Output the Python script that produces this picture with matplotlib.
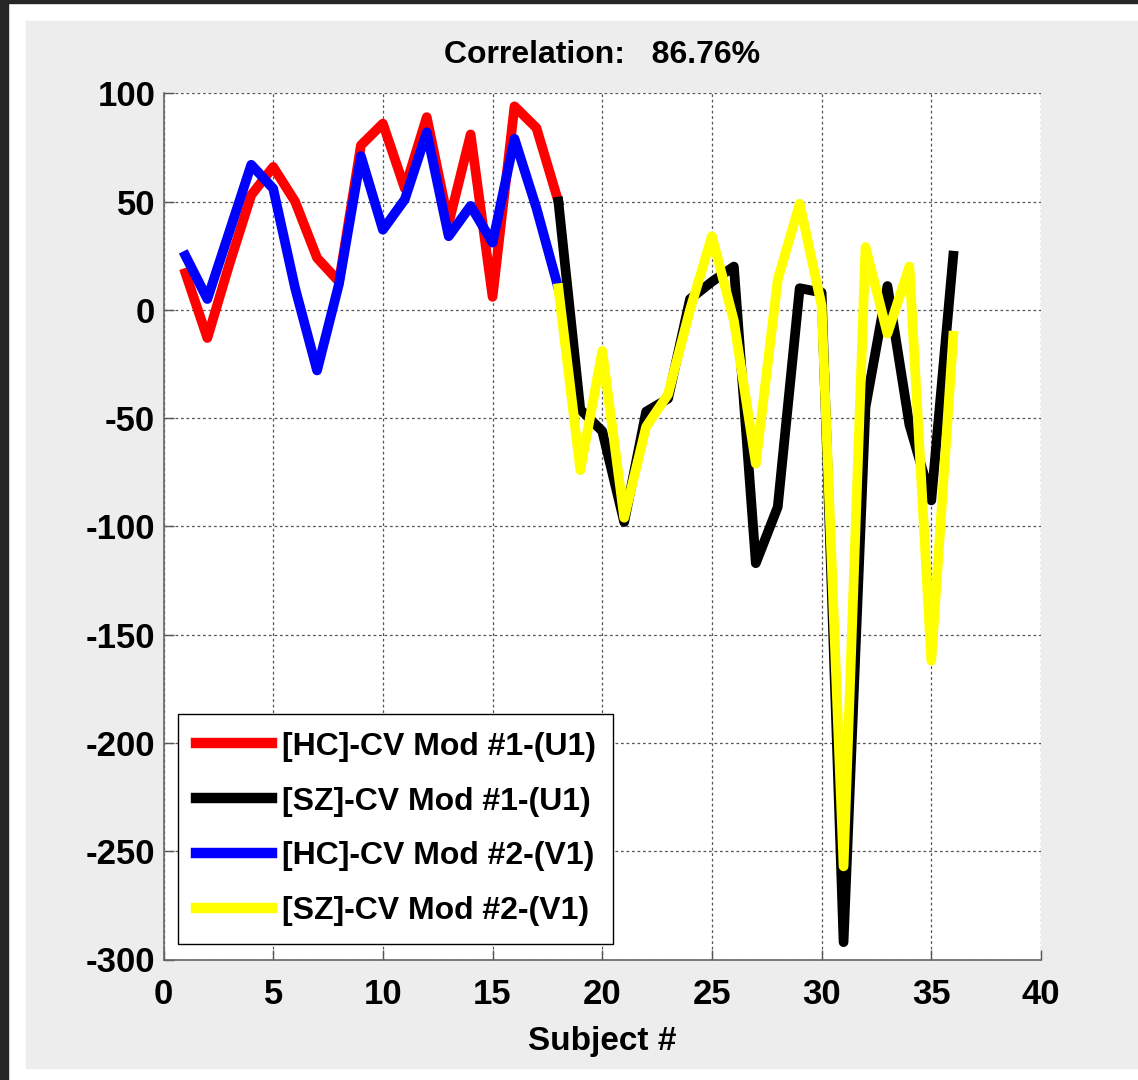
import matplotlib

matplotlib.use("Agg")
import matplotlib.pyplot as plt  # noqa: E402
from matplotlib.patches import Rectangle  # noqa: E402

plt.rcParams["font.family"] = ["Liberation Sans", "DejaVu Sans"]
plt.rcParams["font.weight"] = "bold"
plt.rcParams["axes.unicode_minus"] = False

# HC subjects 1-18, SZ subjects 18-36 (SZ curves start where HC ends)
hc_x = list(range(1, 19))
sz_x = list(range(18, 37))

hc_u1 = [17, -13, 21, 53, 66, 50, 24, 13, 76, 86, 56, 89, 40, 81, 6, 94, 84, 50]
hc_v1 = [25, 5, 36, 67, 56, 10, -28, 12, 71, 37, 51, 82, 34, 48, 31, 79, 47, 10]
sz_u1 = [50, -46, -56, -98, -47, -41, 5, 13, 20, -117, -91, 10, 8, -292,
         -45, 11, -53, -88, 25]
sz_v1 = [10, -74, -19, -96, -54, -39, 0, 34, -5, -71, 14, 49, 2, -257,
         29, -11, 20, -162, -12]

labels = ["[HC]-CV Mod #1-(U1)", "[SZ]-CV Mod #1-(U1)",
          "[HC]-CV Mod #2-(V1)", "[SZ]-CV Mod #2-(V1)"]
corr_text = "Correlation:   86.76%"
x_ticks = list(range(0, 41, 5))
y_ticks = list(range(-300, 101, 50))

W, H = 1138, 1080
fig = plt.figure(figsize=(W / 100, H / 100), dpi=100, facecolor="white")

# window chrome: dark border strip and grey figure panel
fig.patches.append(Rectangle((0, 1 - 3 / H), 1, 3 / H, transform=fig.transFigure,
                             color="#262626", zorder=-10))
fig.patches.append(Rectangle((0, 0), 8 / W, 1, transform=fig.transFigure,
                             color="#262626", zorder=-10))
fig.patches.append(Rectangle((26 / W, 12 / H), 1 - 26 / W, 1 - 33 / H,
                             transform=fig.transFigure, color="#ededed", zorder=-9))

ax = fig.add_axes([163.5 / W, 120.5 / H, 877.5 / W, 866.2 / H])
ax.set_facecolor("white")

lw = 7
ax.plot(hc_x, hc_u1, color="#ff0000", lw=lw, label=labels[0], solid_joinstyle="round")
ax.plot(sz_x, sz_u1, color="#000000", lw=lw, label=labels[1], solid_joinstyle="round")
ax.plot(hc_x, hc_v1, color="#0000ff", lw=lw, label=labels[2], solid_joinstyle="round")
ax.plot(sz_x, sz_v1, color="#ffff00", lw=lw, label=labels[3], solid_joinstyle="round")

ax.set_xlim(0, 40)
ax.set_ylim(-300, 100)
ax.set_xticks(x_ticks)
ax.set_yticks(y_ticks)
ax.grid(True, color="#555555", linestyle=(0, (2.2, 2.2)), linewidth=0.9)

for side in ("top", "right"):
    ax.spines[side].set_visible(False)
for side in ("left", "bottom"):
    ax.spines[side].set_color("#666666")
    ax.spines[side].set_linewidth(1.2)

ax.tick_params(direction="in", length=7, width=1, color="#555555",
               labelsize=25, labelcolor="black")
ax.tick_params(axis="x", pad=13)
ax.tick_params(axis="y", pad=6)

ax.set_title(corr_text, fontsize=23, fontweight="bold", pad=22)
ax.set_xlabel("Subject #", fontsize=24, fontweight="bold", labelpad=11)

leg = ax.legend(loc="lower left", bbox_to_anchor=(0.0165, 0.018), borderaxespad=0,
                fontsize=23, frameon=True, fancybox=False, framealpha=1,
                edgecolor="black", handlelength=2.4, handletextpad=0.3,
                labelspacing=0.78, borderpad=0.55)
leg.get_frame().set_linewidth(1.0)
for line in leg.get_lines():
    line.set_linewidth(7.5)

fig.savefig("out.png", dpi=100, facecolor=fig.get_facecolor())
